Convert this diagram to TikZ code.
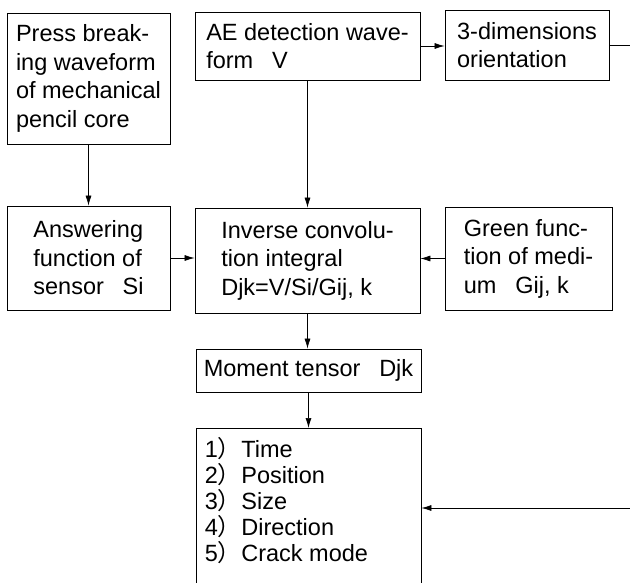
\documentclass[tikz,border=0pt]{standalone}
\usepackage{fontspec}
\setmainfont{Liberation Sans}
\newfontfamily\cjk{Noto Sans CJK SC}
\newcommand{\fwp}{{\cjk ）}}
\usetikzlibrary{arrows.meta}
\begin{document}
\begin{tikzpicture}[x=1pt,y=-1pt,
  box/.style={draw, line width=0.8pt, align=left, inner sep=0pt, font=\fontsize{23.5}{28.5}\selectfont},
  frame/.style={draw, line width=0.8pt, inner sep=0pt},
  txt/.style={align=left, inner sep=0pt, font=\fontsize{23.5}{26}\selectfont},
  arr/.style={-{Latex[length=10pt,width=6pt]}, line width=0.7pt},
  ln/.style={line width=0.7pt}]
\useasboundingbox (0,0) rectangle (630,583);
\clip (0,0) rectangle (630,583);
\node[box, minimum width=163pt, minimum height=131pt] (press) at (88.5,78.5) {Press break-\\ing waveform\\of mechanical\\pencil core};
\node[box, minimum width=225pt, minimum height=68pt] (ae) at (307.5,46) {AE detection wave-\\form\hspace{0.8em}V};
\node[box, minimum width=164pt, minimum height=70pt] (dim) at (527,45) {3-dimensions\\orientation};
\node[box, minimum width=163pt, minimum height=104pt] (ans) at (88.5,258) {Answering\\function of\\sensor\hspace{0.8em}Si};
\node[box, minimum width=225pt, minimum height=105pt] (inv) at (307.5,260.5) {Inverse convolu-\\tion integral\\Djk=V/Si/Gij, k};
\node[box, minimum width=167pt, minimum height=103pt] (green) at (528.5,258.5) {Green func-\\tion of medi-\\um\hspace{0.8em}Gij, k};
\node[box, minimum width=225pt, minimum height=43pt] (mom) at (308.5,370.5) {Moment tensor\hspace{0.8em}Djk};
\node[frame, anchor=north, minimum width=225pt, minimum height=180pt] (res) at (308.5,428) {};
\node[txt, anchor=north west] (reslist) at ([shift={(9,9)}]res.north west) {1\fwp Time\\2\fwp Position\\3\fwp Size\\4\fwp Direction\\5\fwp Crack mode};
\coordinate (rout) at (630,45);
\coordinate (rin) at (630,508);
\draw[arr] (ae.east) -- (ae.east -| dim.west);
\draw[ln] (dim.east) -- (rout);
\draw[arr] (press.south) -- (press.south |- ans.north);
\draw[arr] (ae.south) -- (ae.south |- inv.north);
\draw[arr] (ans.east) -- (ans.east -| inv.west);
\draw[arr] (green.west) -- (green.west -| inv.east);
\draw[arr] (inv.south) -- (inv.south |- mom.north);
\draw[arr] (mom.south) -- (mom.south |- res.north);
\draw[arr] (rin) -- (rin -| res.east);
\end{tikzpicture}
\end{document}
